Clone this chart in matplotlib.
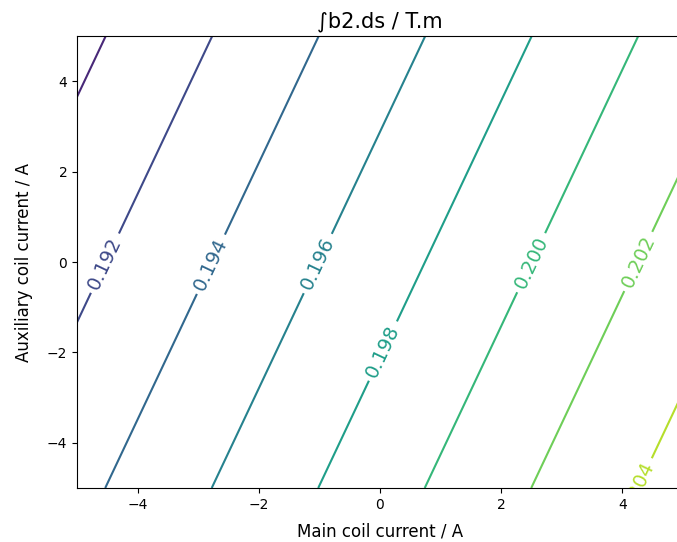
import numpy as np
import matplotlib
matplotlib.use("Agg")
import matplotlib.pyplot as plt

# Main / auxiliary coil currents at grid corners (A)
main_current = [-5.0, 5.0]
aux_current = [-5.0, 5.0]
# ∫b2.ds (T.m) read at the corners: rows = aux current, cols = main current
b2_integral = [
    [0.19347, 0.20485],  # aux = -5
    [0.18946, 0.20084],  # aux = +5
]
levels = [0.188, 0.190, 0.192, 0.194, 0.196, 0.198, 0.200, 0.202, 0.204, 0.206]

fig = plt.figure(figsize=(6.77, 5.42), dpi=100)
W, H = 677, 542
ax = fig.add_axes([77 / W, 1 - 488 / H, 606 / W, (488 - 36) / H])

X, Y = np.meshgrid(main_current, aux_current)
Z = np.array(b2_integral)
cs = ax.contour(X, Y, Z, levels=levels, cmap="viridis")

label_spots = [(-4.58, 0.0), (-2.87, 0.0), (-1.08, 0.0), (0.0, -1.94),
               (2.47, 0.0), (4.28, 0.0), (4.26, -5.0)]
ax.clabel(cs, fontsize=14, manual=label_spots)

ax.set_xlim(-5, 5)
ax.set_ylim(-5, 5)
ax.set_title("∫b2.ds / T.m", fontsize=15)
ax.set_xlabel("Main coil current / A", fontsize=12)
ax.set_ylabel("Auxiliary coil current / A", fontsize=12)
ax.xaxis.set_label_coords(0.5, (488 - 522) / 452)
ax.yaxis.set_label_coords((33 - 77) / 606, 0.5)

fig.savefig("out.png", dpi=100)
